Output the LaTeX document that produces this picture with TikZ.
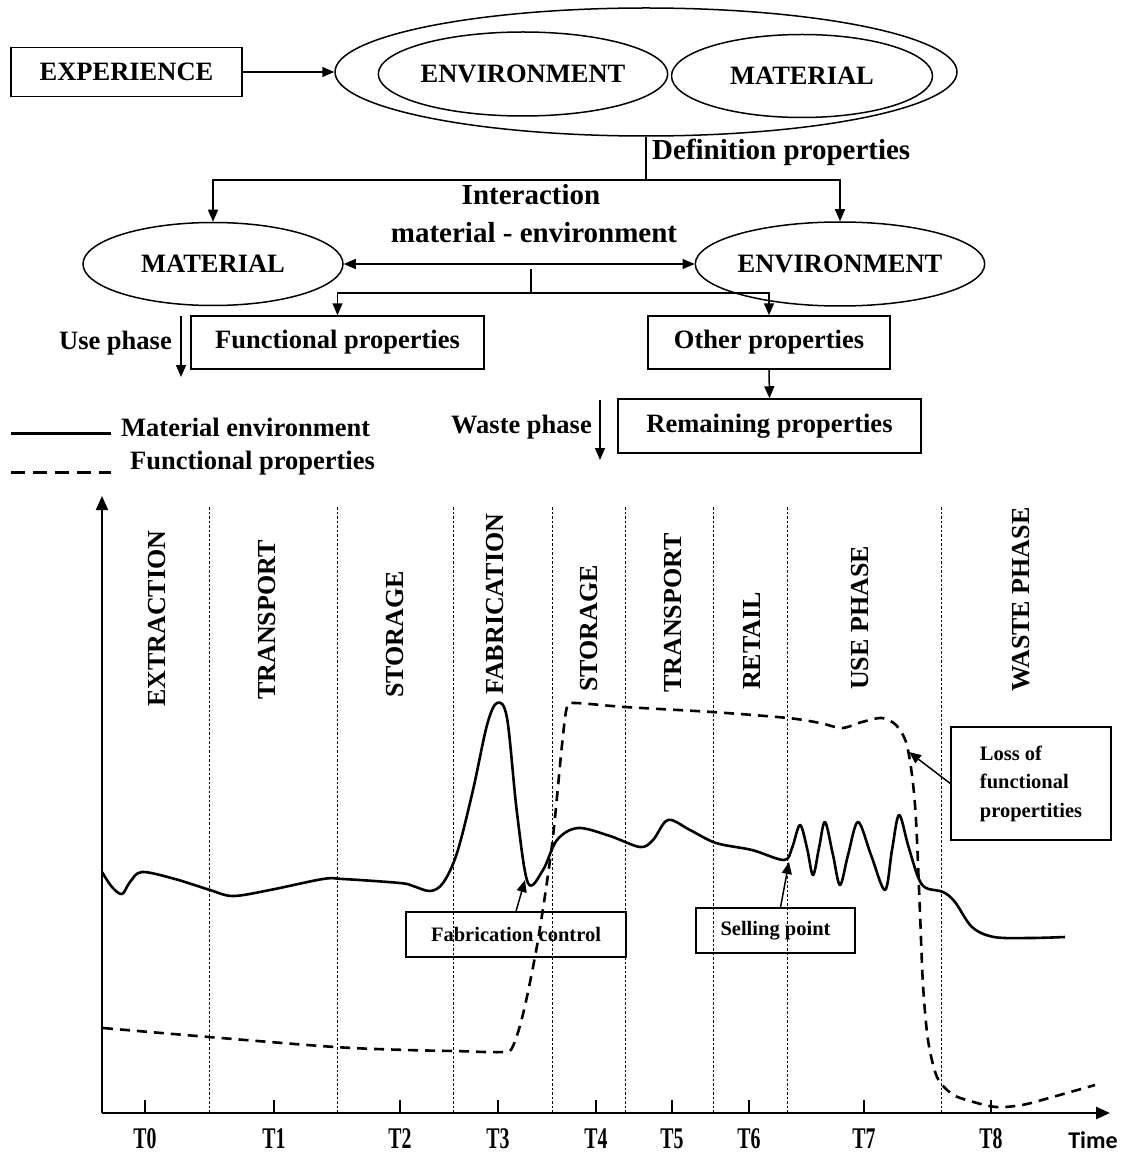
\documentclass[tikz,border=0pt]{standalone}
\usepackage{fontspec}
\setmainfont{Liberation Serif}
\newfontfamily\calfont{Carlito}
\usetikzlibrary{shapes.geometric,arrows.meta}
\begin{document}
\begin{tikzpicture}[x=1pt,y=-1pt,
 lw/.style={line width=1.5pt},
 arr/.style={lw, -{Triangle[length=12pt,width=10pt]}},
 darr/.style={lw, {Triangle[length=12pt,width=10pt]}-{Triangle[length=12pt,width=10pt]}},
 box/.style={draw, lw, inner sep=0pt},
 ell/.style={draw, lw, ellipse, inner sep=0pt},
 bigtxt/.style={font=\fontsize{26.5}{30}\selectfont\bfseries},
 hugetxt/.style={font=\fontsize{29}{38}\selectfont\bfseries},
 smalltxt/.style={font=\fontsize{20.5}{28.5}\selectfont\bfseries},
 phase/.style={rotate=90, anchor=west, inner sep=0pt, font=\fontsize{26}{30}\selectfont\bfseries},
 sep/.style={line width=0.6pt, dash pattern=on 2.5pt off 2pt},
 curve/.style={line width=2.6pt, line join=round},
 dcurve/.style={line width=2.6pt, dash pattern=on 10pt off 7pt},
 tick/.style={line width=1.5pt},
 tlab/.style={font=\fontsize{30}{34}\selectfont\bfseries, inner sep=0pt},
 axis/.style={line width=2pt, -{Triangle[length=14pt,width=12pt]}}
]
\fill[white] (0,0) rectangle (1127,1155);
\useasboundingbox (0,0) rectangle (1127,1155);

% ---------- top diagram ----------
\node[box, bigtxt, minimum width=231pt, minimum height=49pt] (exp) at (126.5,72) {EXPERIENCE};
\node[ell, minimum width=622pt, minimum height=128pt] (outer) at (646,72) {};
\node[ell, bigtxt, minimum width=277pt, minimum height=84pt] (envin) at (523,74) {ENVIRONMENT};
\node[ell, bigtxt, minimum width=261pt, minimum height=83pt] (matin) at (802,76) {MATERIAL};
\draw[arr] (exp.east) -- (outer.west);

\node[hugetxt, anchor=west, inner sep=0pt] (defp) at (652,152) {Definition properties};
\coordinate (split) at (646,180);
\node[ell, bigtxt, minimum width=260pt, minimum height=83pt] (mat2) at (213,264) {\raisebox{-10pt}{MATERIAL}};
\node[ell, bigtxt, minimum width=277pt, minimum height=84pt] (env2) at (840,264) {ENVIRONMENT};
\draw[lw] (outer.south) -- (split);
\draw[arr] (split) -| (mat2.north);
\draw[arr] (split) -| (env2.north);

\node[hugetxt, inner sep=0pt] (inter1) at (531,195) {Interaction};
\node[hugetxt, inner sep=0pt] (inter2) at (534,233) {material - environment};
\draw[darr] (mat2.east) -- (env2.west);

\coordinate (stubA) at (531,269);
\coordinate (stubB) at (531,293);
\node[box, bigtxt, minimum width=293pt, minimum height=53pt] (func) at (337.5,342.5) {Functional properties};
\node[box, bigtxt, minimum width=242pt, minimum height=53pt] (other) at (769,342.5) {Other properties};
\node[box, bigtxt, minimum width=303pt, minimum height=54pt] (rem) at (769.5,426) {Remaining properties};
\draw[lw] (stubA) -- (stubB);
\draw[arr] (stubB) -| (func.north);
\draw[arr] (stubB) -| (other.north);
\draw[arr] (other.south) -- (rem.north);

\node[bigtxt, anchor=east, inner sep=0pt] (usep) at (172,343) {Use phase};
\coordinate (useA) at (181,316);
\coordinate (useB) at (181,377);
\draw[arr] (useA) -- (useB);
\node[bigtxt, anchor=east, inner sep=0pt] (wastep) at (592,427) {Waste phase};
\coordinate (wasA) at (600,400);
\coordinate (wasB) at (600,460);
\draw[arr] (wasA) -- (wasB);

% legend
\coordinate (l1a) at (11,433); \coordinate (l1b) at (111,433);
\coordinate (l2a) at (11,472); \coordinate (l2b) at (111,472);
\draw[line width=3pt] (l1a) -- (l1b);
\draw[line width=3pt, dash pattern=on 14pt off 8pt] (l2a) -- (l2b);
\node[bigtxt, anchor=west, inner sep=0pt] (leg1) at (121,427) {Material environment};
\node[bigtxt, anchor=west, inner sep=0pt] (leg2) at (130,463) {Functional properties};

% ---------- chart ----------
\foreach \xx in {209,337,453,552,625,713,787,941}
  \draw[sep] (\xx,507) -- (\xx,1113);

\node[phase] (ph1) at (157,707) {EXTRACTION};
\node[phase] (ph2) at (267,700) {TRANSPORT};
\node[phase] (ph3) at (395,698) {STORAGE};
\node[phase] (ph4) at (495,695) {FABRICATION};
\node[phase] (ph5) at (589,692) {STORAGE};
\node[phase] (ph6) at (673,693) {TRANSPORT};
\node[phase] (ph7) at (752,690) {RETAIL};
\node[phase] (ph8) at (860,690) {USE PHASE};
\node[phase] (ph9) at (1021,692) {WASTE PHASE};

\coordinate (O) at (102,1113);
\coordinate (ytop) at (102,496);
\coordinate (xend) at (1110,1113);
\draw[axis] (O) -- (ytop);
\draw[axis, line width=2.6pt] (O) -- (xend);

\foreach \xx/\lab in {145/T0,274/T1,400/T2,498/T3,596/T4,672/T5,749/T6,864/T7,991/T8}{
  \draw[tick] (\xx,1100) -- (\xx,1113);
  \node[tlab] at (\xx,1139) {\scalebox{0.66}[1]{\lab}};
}
\node[font=\fontsize{24}{28}\selectfont\calfont\bfseries, inner sep=0pt] (timel) at (1093,1140) {Time};

% solid curve (material environment)
\draw[curve] plot[smooth, tension=0.55] coordinates {
(102,872) (112,887) (122,894) (130,882) (142,872) (175,879) (210,890) (233,896)
(270,890) (323,879) (343,879) (400,883) (413,886) (430,891) (443,883) (457,853)
(473,790) (487,725) (497,703) (507,718) (517,813) (528,883) (543,870) (557,840)
(578,828) (610,836) (640,847) (653,840) (668,820) (690,830) (716,843) (752,850)
(784,860) (792,848) (800,825) (807,848) (813,875) (819,848) (825,822) (833,855)
(840,885) (848,855) (858,822) (871,855) (885,890) (892,850) (899,815) (908,845)
(918,877) (926,888) (943,892) (955,902) (972,927) (994,937) (1030,938) (1065,937)};

% dashed curve (functional properties)
\draw[dcurve] plot[smooth, tension=0.5] coordinates {
(103,1028) (209,1037) (335,1047) (407,1050) (455,1051) (503,1052) (513,1046)
(524,1010) (538,940) (552,845) (562,745) (567,707) (575,703) (625,707) (712,712)
(788,718) (820,723) (842,728) (862,722) (882,718) (896,725) (906,742) (912,775)
(916,820) (920,913) (923,985) (928,1040) (937,1077) (952,1094) (970,1101)
(996,1107) (1022,1105) (1049,1098) (1095,1085)};

% annotations
\node[box, smalltxt, minimum width=220pt, minimum height=45pt] (fabc) at (516,934.5) {Fabrication control};
\coordinate (fabpt) at (525,880);
\draw[arr] (fabc.north) -- (fabpt);
\node[box, smalltxt, minimum width=159pt, minimum height=45pt] (sell) at (775.5,930.5) {Selling point};
\coordinate (sellpt) at (789,862);
\draw[arr] ([xshift=5pt]sell.north) -- (sellpt);
\node[box, smalltxt, minimum width=160pt, minimum height=113pt, align=left] (loss) at (1031,783.5) {Loss of\\functional\\propertities};
\coordinate (losspt) at (909,752);
\draw[arr] (loss.west) -- (losspt);
\end{tikzpicture}
\end{document}
